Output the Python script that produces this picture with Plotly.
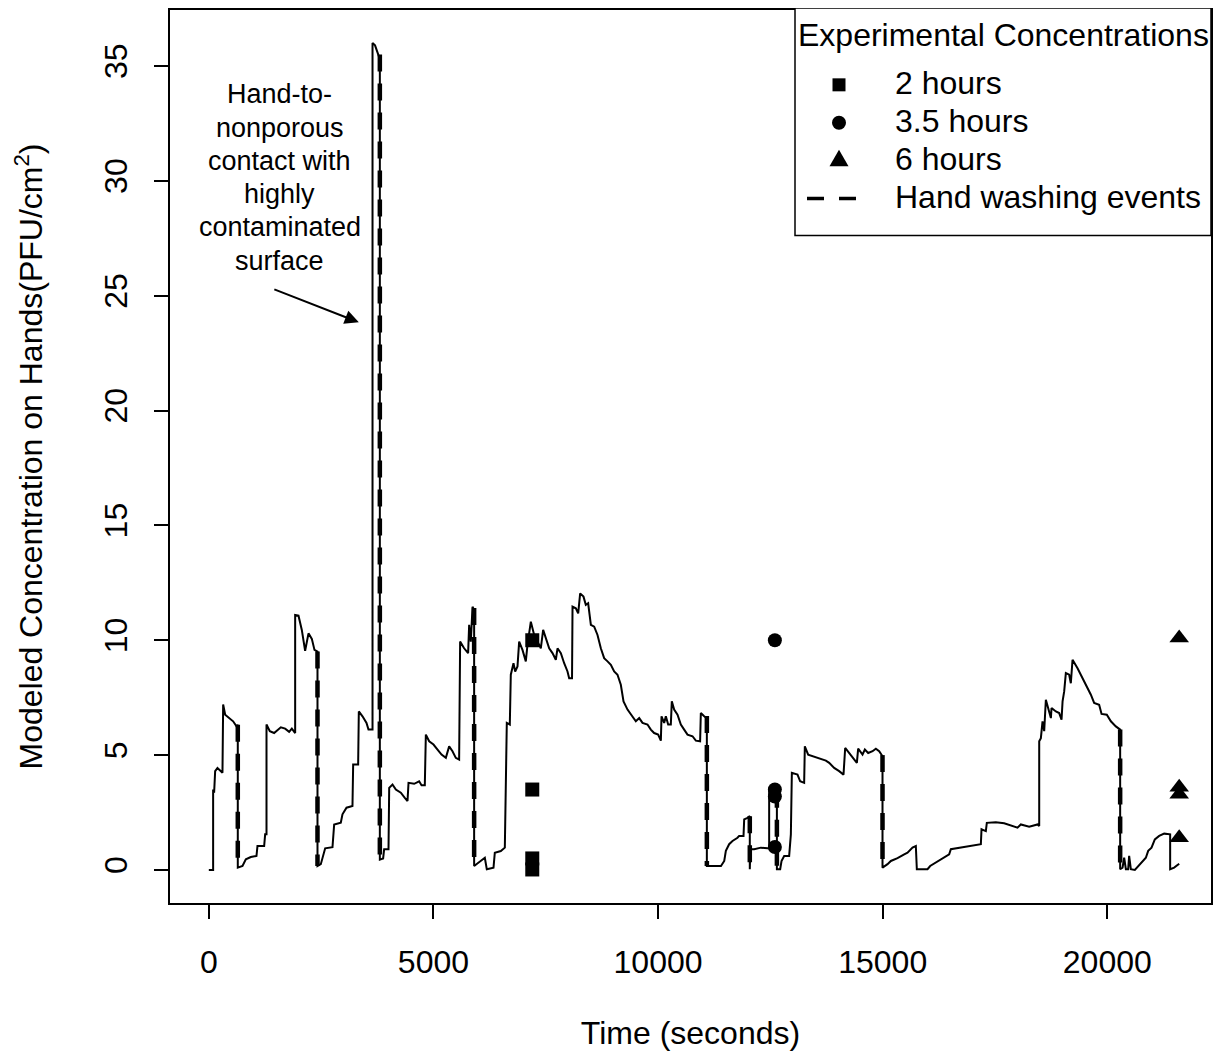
import plotly.graph_objects as go

# ---------------- data ----------------
time_s = [0, 96, 96, 118, 141, 193, 304, 319, 364, 453, 541, 616, 645, 645, 750, 824, 935, 1061, 1083, 1232,
          1254, 1284, 1284, 1358, 1454, 1603, 1699, 1788, 1848, 1922, 1922, 1996, 2070, 2144, 2219, 2293, 2352,
          2419, 2419, 2493, 2590, 2753, 2790, 2938, 2975, 3065, 3198, 3213, 3324, 3339, 3421, 3510, 3554, 3644,
          3644, 3700, 3807, 3807, 3880, 3903, 4000, 4015, 4089, 4163, 4274, 4363, 4423, 4445, 4571, 4682, 4735,
          4808, 4831, 4905, 5001, 5091, 5180, 5276, 5350, 5424, 5498, 5572, 5594, 5683, 5772, 5795, 5832, 5870,
          5906, 5906, 6055, 6144, 6188, 6337, 6366, 6500, 6589, 6611, 6633, 6700, 6722, 6782, 6819, 6871, 6908,
          6982, 7056, 7093, 7168, 7242, 7316, 7390, 7442, 7502, 7576, 7650, 7724, 7762, 7836, 7910, 7984, 8021,
          8085, 8096, 8170, 8222, 8266, 8340, 8392, 8444, 8504, 8578, 8652, 8726, 8800, 8875, 8949, 9023, 9097,
          9171, 9231, 9320, 9394, 9505, 9580, 9654, 9765, 9839, 9913, 10002, 10062, 10077, 10136, 10173, 10225,
          10284, 10306, 10358, 10433, 10507, 10581, 10655, 10767, 10841, 10936, 10952, 11026, 11086, 11086, 11400,
          11473, 11509, 11582, 11657, 11768, 11805, 11902, 11917, 11991, 12042, 12042, 12055, 12139, 12288, 12436,
          12473, 12473, 12560, 12645, 12645, 12718, 12748, 12807, 12918, 12956, 12978, 13104, 13163, 13252, 13267,
          13341, 13438, 13549, 13661, 13735, 13809, 13920, 14031, 14128, 14165, 14254, 14328, 14425, 14454, 14551,
          14603, 14677, 14774, 14848, 14922, 14996, 14996, 15108, 15182, 15330, 15479, 15553, 15664, 15738, 15760,
          15998, 16057, 16183, 16294, 16406, 16480, 16517, 16740, 16962, 17185, 17200, 17296, 17318, 17518, 17704,
          17853, 18001, 18075, 18261, 18447, 18484, 18484, 18521, 18558, 18595, 18632, 18706, 18744, 18758, 18855,
          18929, 18981, 19004, 19040, 19077, 19151, 19188, 19226, 19337, 19411, 19485, 19560, 19634, 19707, 19818,
          19872, 19989, 20079, 20190, 20286, 20286, 20339, 20375, 20413, 20464, 20486, 20524, 20613, 20687, 20762,
          20858, 20910, 20984, 21058, 21154, 21266, 21399, 21399, 21488, 21600]
conc = [0, 0, 3.5, 3.36, 4.3, 4.44, 4.23, 7.2, 6.76, 6.61, 6.47, 6.25, 6.32, 0.1, 0.17, 0.46, 0.56, 0.61, 1.04, 1.04,
        1.55, 1.55, 6.33, 6.04, 5.96, 6.21, 6.15, 6.01, 6.15, 5.96, 11.1, 11.07, 10.45, 9.54, 10.3, 10.06, 9.58,
        9.51, 0.17, 0.25, 0.94, 0.99, 1.98, 2.06, 2.42, 2.71, 2.78, 4.59, 4.59, 6.9, 6.69, 6.4, 6.11, 6.11,
        36.0, 35.9, 35.3, 0.45, 0.5, 0.9, 0.9, 3.57, 3.72, 3.5, 3.36, 3.14, 3.0, 3.79, 3.75, 3.86, 3.69,
        3.69, 5.89, 5.6, 5.46, 5.24, 5.02, 4.88, 5.38, 5.17, 4.88, 4.8, 9.94, 9.65, 9.44, 10.67, 9.94, 11.46,
        11.32, 0.17, 0.39, 0.53, 0.03, 0.1, 0.75, 0.82, 0.97, 3.29, 6.4, 6.33, 8.5, 9.0, 8.64, 8.86, 9.94,
        9.58, 9.08, 9.8, 10.81, 10.23, 9.94, 9.65, 10.45, 10.09, 9.65, 9.44, 9.15, 9.65, 9.44, 9.0, 8.64, 8.35,
        8.35, 11.46, 11.39, 11.17, 12.04, 11.9, 11.54, 11.61, 10.67, 10.59, 10.23, 9.65, 9.22, 9.08, 8.93, 8.64, 8.5,
        8.06, 7.34, 6.98, 6.76, 6.47, 6.61, 6.4, 6.33, 6.11, 5.96, 5.89, 5.63, 6.69, 6.4, 6.69, 6.33,
        6.33, 7.34, 6.98, 6.76, 6.33, 6.11, 5.89, 5.82, 5.63, 5.6, 6.83, 6.69, 6.61, 0.17, 0.17,
        0.39, 0.83, 1.12, 1.26, 1.4, 1.48, 1.48, 2.2, 2.27, 2.34, 0.03, 0.9, 0.9, 0.97, 0.94,
        0.94, 3.57, 3.45, 3.4, 0.03, 0.03, 0.39, 0.61, 0.61, 1.55, 4.23, 4.15, 3.86, 3.79, 5.38,
        5.02, 4.95, 4.88, 4.8, 4.76, 4.66, 4.44, 4.3, 4.15, 5.31, 5.09, 4.88, 4.66, 5.28, 5.02,
        5.24, 5.09, 5.17, 5.28, 5.17, 4.95, 0.1, 0.25, 0.39, 0.51, 0.68, 0.75, 0.97, 1.04, 0.03,
        0.03, 0.17, 0.32, 0.46, 0.61, 0.68, 0.9, 0.97, 1.04, 1.12, 1.77, 1.69, 2.05, 2.08, 2.03,
        1.95, 1.84, 1.98, 1.88, 1.98, 1.91, 5.6, 5.74, 6.47, 6.04, 7.41, 6.9, 6.61, 7.05, 6.9,
        6.83, 6.54, 7.34, 7.77, 8.57, 8.5, 8.13, 9.15, 8.78, 8.5, 8.21, 7.92, 7.63, 7.27, 7.19,
        6.79, 6.76, 6.47, 6.25, 6.11, 0.03, 0.1, 0.53, 0.03, 0.03, 0.61, 0.03, 0.0, 0.17, 0.32,
        0.53, 0.83, 0.97, 1.33, 1.48, 1.58, 1.55, 0.03, 0.1, 0.27]

wash_time = [645, 2419, 3807, 5906, 11086, 12042, 12645, 14996, 20286]
wash_before = [6.32, 9.51, 35.5, 11.4, 6.7, 2.34, 3.45, 5.0, 6.11]
wash_after = [0.1, 0.17, 0.45, 0.17, 0.17, 0.03, 0.03, 0.1, 0.03]

time_2h = [7200, 7200, 7200, 7200]
conc_2h = [10.0, 3.5, 0.5, 0.02]
time_35h = [12600, 12600, 12600, 12600]
conc_35h = [10.0, 3.5, 3.2, 1.0]
time_6h = [21600, 21600, 21600, 21600]
conc_6h = [10.1, 3.6, 3.3, 1.4]

x_ticks = [0, 5000, 10000, 15000, 20000]
y_ticks = [0, 5, 10, 15, 20, 25, 30, 35]

legend_title = "Experimental Concentrations"
legend_labels = ["2 hours", "3.5 hours", "6 hours", "Hand washing events"]

note_lines = ["Hand-to-", "nonporous", "contact with", "highly", "contaminated", "surface"]
note_x = 1580
note_y = [33.69, 32.22, 30.79, 29.35, 27.92, 26.44]
arrow_tail = (1425, 25.3)
arrow_head = (3339, 23.84)

# ---------------- figure ----------------
FONT = "Liberation Sans, Arial, Helvetica, sans-serif"
FS = 32
fig = go.Figure()

fig.add_trace(go.Scatter(x=time_s, y=conc, mode="lines", line=dict(color="black", width=2),
                         showlegend=False, hoverinfo="skip"))

wx, wy = [], []
for t, b, a in zip(wash_time, wash_before, wash_after):
    wx += [t, t, None]
    wy += [b, a, None]
fig.add_trace(go.Scatter(x=wx, y=wy, mode="lines", name=legend_labels[3], showlegend=False,
                         line=dict(color="black", width=4.5, dash="17px,12px")))

fig.add_trace(go.Scatter(x=time_2h, y=conc_2h, mode="markers", name=legend_labels[0], showlegend=False,
                         marker=dict(symbol="square", size=14, color="black")))
fig.add_trace(go.Scatter(x=time_35h, y=conc_35h, mode="markers", name=legend_labels[1], showlegend=False,
                         marker=dict(symbol="circle", size=14, color="black")))
fig.add_trace(go.Scatter(x=time_6h, y=conc_6h, mode="markers", name=legend_labels[2], showlegend=False,
                         marker=dict(symbol="triangle-up", size=17, color="black")))

# annotation text + arrow
for txt, yv in zip(note_lines, note_y):
    fig.add_annotation(x=note_x, y=yv, text=txt, showarrow=False, xanchor="center", yanchor="middle",
                       yshift=2, font=dict(family=FONT, size=27, color="black"))
fig.add_annotation(x=arrow_head[0], y=arrow_head[1], ax=arrow_tail[0], ay=arrow_tail[1],
                   xref="x", yref="y", axref="x", ayref="y", text="", showarrow=True,
                   arrowhead=2, arrowsize=1.4, arrowwidth=2, arrowcolor="black")

# ---- legend drawn like R's legend() box ----
PL, PR, PT, PB = 170, 1211, 8, 903   # plot area in page pixels


def px_x(p):
    return (p - PL) / (PR - PL)


def px_y(p):
    return (PB - p) / (PB - PT)


fig.add_shape(type="rect", xref="paper", yref="paper", x0=px_x(795), x1=1.0, y0=px_y(234), y1=px_y(6),
              line=dict(color="black", width=1.5), fillcolor="white", layer="above")
fig.add_annotation(xref="paper", yref="paper", x=px_x(1003), y=px_y(33), text=legend_title,
                   showarrow=False, xanchor="center", yanchor="middle",
                   font=dict(family=FONT, size=FS, color="black"))
item_y = [83, 121, 159, 197]
for lab, yy in zip(legend_labels, item_y):
    fig.add_annotation(xref="paper", yref="paper", x=px_x(893), y=px_y(yy - 2), text=lab,
                       showarrow=False, xanchor="left", yanchor="middle",
                       font=dict(family=FONT, size=FS, color="black"))
sym_x = px_x(839)
fig.add_shape(type="rect", xref="paper", yref="paper", xsizemode="pixel", ysizemode="pixel",
              xanchor=sym_x, yanchor=px_y(item_y[0]), x0=-6.5, x1=6.5, y0=-6.5, y1=6.5,
              fillcolor="black", line=dict(width=0))
fig.add_shape(type="circle", xref="paper", yref="paper", xsizemode="pixel", ysizemode="pixel",
              xanchor=sym_x, yanchor=px_y(item_y[1]), x0=-7, x1=7, y0=-7, y1=7,
              fillcolor="black", line=dict(width=0))
fig.add_shape(type="path", xref="paper", yref="paper", xsizemode="pixel", ysizemode="pixel",
              xanchor=sym_x, yanchor=px_y(item_y[2]), path="M-9.5,-5.5 L9.5,-5.5 L0,11 Z",
              fillcolor="black", line=dict(width=0))
fig.add_shape(type="line", xref="paper", yref="paper", x0=px_x(807), x1=px_x(857),
              y0=px_y(item_y[3]), y1=px_y(item_y[3]),
              line=dict(color="black", width=3.5, dash="17px,15px"))

fig.update_layout(
    width=1205, height=1043,
    margin=dict(l=162, r=2, t=0, b=148),
    paper_bgcolor="white", plot_bgcolor="white",
    font=dict(family=FONT, size=FS, color="black"),
    showlegend=False,
)
fig.update_xaxes(range=[-864, 22308], tickvals=x_ticks, ticktext=[str(v) for v in x_ticks],
                 showgrid=False, zeroline=False, showline=True, mirror=True, linecolor="black",
                 linewidth=1.5, ticks="outside", ticklen=14, tickwidth=1.5, tickcolor="black",
                 ticklabelstandoff=16,
                 title=dict(text="Time (seconds)", standoff=47, font=dict(family=FONT, size=FS)))
fig.update_yaxes(range=[-1.44, 37.44], tickvals=y_ticks, ticktext=[str(v) for v in y_ticks],
                 showgrid=False, zeroline=False, showline=True, mirror=True, linecolor="black",
                 linewidth=1.5, ticks="outside", ticklen=14, tickwidth=1.5, tickcolor="black",
                 tickangle=-90, ticklabelstandoff=14,
                 title=dict(text="Modeled Concentration on Hands(PFU/cm<sup>2</sup>)", standoff=46,
                            font=dict(family=FONT, size=FS)))

fig.write_html("out.html")
